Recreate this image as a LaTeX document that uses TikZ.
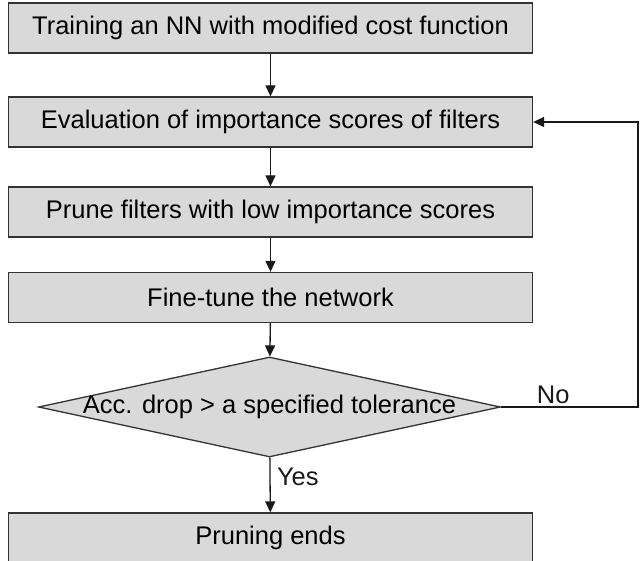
\documentclass[tikz,border=0pt]{standalone}
\usepackage{fontspec}
\setmainfont{Liberation Sans}
\usetikzlibrary{shapes.geometric,arrows.meta}

\begin{document}
\begin{tikzpicture}[x=1pt,y=-1pt,
    font=\fontsize{25.5}{30}\selectfont,
    stepbox/.style={draw=black!80, fill=black!15, line width=1.3pt,
        minimum width=524pt, minimum height=50pt, inner sep=0pt},
    decision/.style={draw=black!80, fill=black!15, line width=1.3pt, diamond,
        minimum width=462pt, minimum height=100pt, inner sep=0pt},
    flow/.style={-{Triangle[length=11pt,width=10pt]}, line width=1.3pt, black!90}]
\useasboundingbox (0,0) rectangle (640,561);

\node[stepbox] (train) at (270.5,28) {Training an NN with modified cost function};
\node[stepbox] (eval) at (270.5,122) {Evaluation of importance scores of filters};
\node[stepbox] (prune) at (270.5,212) {Prune filters with low importance scores};
\node[stepbox] (tune) at (270.5,297.5) {Fine-tune the network};

\node[decision, label=center:{Acc. drop > a specified tolerance}] (acc) at (269.5,407) {};

\node[stepbox] (ends) at (270.5,538) {Pruning ends};

\coordinate (loop) at (638,407);

\draw[flow] (train) -- (eval);
\draw[flow] (eval) -- (prune);
\draw[flow] (prune) -- (tune);
\draw[flow] (tune) -- (acc);
\draw[flow] (acc) -- node[right, pos=0.35, xshift=3pt] {Yes} (ends);
\draw[flow] (acc.east) -- node[above, pos=0.38, inner sep=3pt] {No} (loop) |- (eval.east);
\end{tikzpicture}
\end{document}
